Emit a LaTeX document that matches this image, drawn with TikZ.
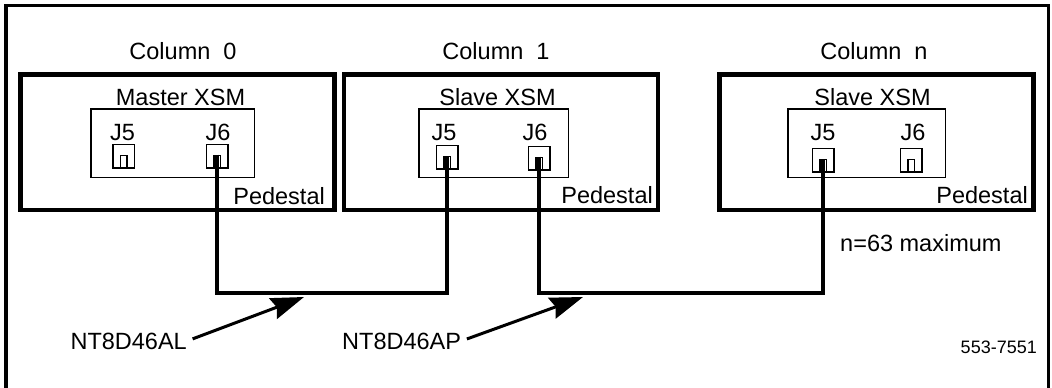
\documentclass[tikz,border=0pt]{standalone}
\usepackage{fontspec}
\setmainfont{Liberation Sans}
\usepackage{tikz}
\usetikzlibrary{arrows.meta, positioning}
\tikzset{
  colbox/.style={rectangle, draw, line width=4.5pt, minimum width=314pt,
    minimum height=135.5pt, inner sep=0pt},
  xsmbox/.style={rectangle, draw, line width=1.5pt, minimum height=68.5pt, inner sep=0pt},
  jack/.style={rectangle, draw, line width=1.5pt, minimum width=21.5pt,
    minimum height=23.5pt, inner sep=0pt},
  plug/.style={rectangle, draw, line width=1.5pt, minimum width=6.5pt,
    minimum height=12.5pt, inner sep=0pt},
  lbl/.style={font=\fontsize{23.5}{28}\selectfont, inner sep=0pt},
  smalllbl/.style={font=\fontsize{18}{22}\selectfont, inner sep=0pt},
  cable/.style={line width=4pt},
  pointer/.style={-{Stealth[length=33pt, width=22pt, inset=4pt]}, line width=3pt, shorten <=6pt},
  frame/.style={line width=3.5pt}
}

\begin{document}
\begin{tikzpicture}[x=1pt, y=-1pt]
  \useasboundingbox (0,0) rectangle (1052,388);
  % Frame
  \draw[frame] (6,388) -- (6,5.5) -- (1048.5,5.5) -- (1048.5,388);

  % Columns
  \node[colbox] (col0) at (177.5,142) {};
  \node[colbox] (col1) at (501,142) {};
  \node[colbox] (coln) at (876.5,142) {};

  \node[lbl] (t0) at (183,51) {Column~~0};
  \node[lbl] (t1) at (496,51) {Column~~1};
  \node[lbl] (tn) at (874,51) {Column~~n};

  % XSM cards
  \node[xsmbox, minimum width=163.5pt] (xsm0) at (172.5,143) {};
  \node[xsmbox, minimum width=149.5pt] (xsm1) at (493.5,143) {};
  \node[xsmbox, minimum width=157.5pt] (xsmn) at (866.5,143) {};

  \node[lbl] (m0) at (180.5,97) {Master XSM};
  \node[lbl] (m1) at (497.5,97) {Slave XSM};
  \node[lbl] (mn) at (872.5,97) {Slave XSM};

  \node[lbl, anchor=base east] (p0) at (325,204) {Pedestal};
  \node[lbl, anchor=base east] (p1) at (653,203) {Pedestal};
  \node[lbl, anchor=base east] (pn) at (1028,203) {Pedestal};

  % Jacks
  \node[lbl, anchor=base] (l05) at (122.5,140) {J5};
  \node[lbl, anchor=base] (l06) at (218,140) {J6};
  \node[lbl, anchor=base] (l15) at (444,140) {J5};
  \node[lbl, anchor=base] (l16) at (535,140) {J6};
  \node[lbl, anchor=base] (ln5) at (823,140) {J5};
  \node[lbl, anchor=base] (ln6) at (913,140) {J6};

  \node[jack] (j05) at (123.5,156) {};
  \node[jack] (j06) at (217,156) {};
  \node[jack] (j15) at (447,157) {};
  \node[jack] (j16) at (539,158) {};
  \node[jack] (jn5) at (823,160) {};
  \node[jack] (jn6) at (911,160) {};

  \node[plug, anchor=south] (g05) at (j05.south) {};
  \node[plug, anchor=south] (g06) at (j06.south) {};
  \node[plug, anchor=south] (g15) at (j15.south) {};
  \node[plug, anchor=south] (g16) at (j16.south) {};
  \node[plug, anchor=south] (gn5) at (jn5.south) {};
  \node[plug, anchor=south] (gn6) at (jn6.south) {};

  % Cables
  \coordinate (bendA) at (330,293);
  \coordinate (bendB) at (680,293);
  \draw[cable] (g06.north) |- (bendA) -| (g15.north);
  \draw[cable] (g16.north) |- (bendB) -| (gn5.north);

  % Labels
  \node[lbl, anchor=east] (al) at (187,341) {NT8D46AL};
  \node[lbl, anchor=west] (ap) at (342,341) {NT8D46AP};
  \coordinate (alTip) at (304,297);
  \coordinate (apTip) at (583,297);
  \draw[pointer] (al.east) -- (alTip);
  \draw[pointer] (ap.east) -- (apTip);

  \node[lbl, anchor=west] (nmax) at (840,243) {n=63 maximum};
  \node[smalllbl, anchor=east] (fig) at (1037,347) {553-7551};
\end{tikzpicture}
\end{document}
